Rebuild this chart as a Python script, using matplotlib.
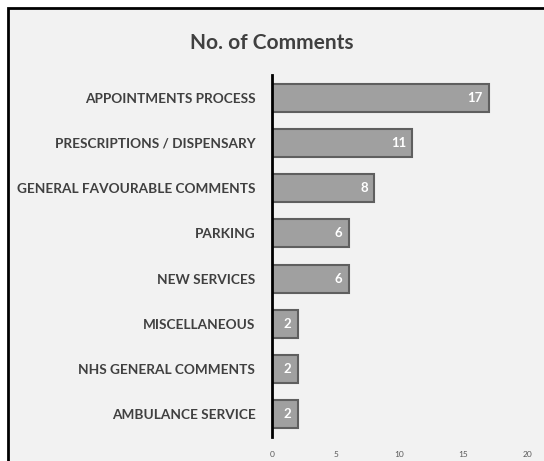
import matplotlib.pyplot as plt
from matplotlib.patches import Rectangle

categories = ['APPOINTMENTS PROCESS', 'PRESCRIPTIONS / DISPENSARY',
              'GENERAL FAVOURABLE COMMENTS', 'PARKING', 'NEW SERVICES',
              'MISCELLANEOUS', 'NHS GENERAL COMMENTS', 'AMBULANCE SERVICE']
counts = [17, 11, 8, 6, 6, 2, 2, 2]
x_ticks = [0, 5, 10, 15, 20]

plt.rcParams['font.family'] = ['Lato', 'DejaVu Sans']

fig = plt.figure(figsize=(5.44, 4.61), dpi=100, facecolor='white')

# chart frame (runs off the right and bottom edges)
fig.patches.append(Rectangle((8 / 544, -0.05), 1.0, 1 - 8 / 461 + 0.05,
                             transform=fig.transFigure, facecolor='#f2f2f2',
                             edgecolor='black', linewidth=2, zorder=-10))

ax = fig.add_axes([0.5, 0.052, 0.469, 0.785])
ax.set_facecolor('none')

y = list(range(len(categories)))
bars = ax.barh(y, counts, height=0.62, color='#a0a0a0',
               edgecolor='#5f5f5f', linewidth=1.5)
for b, v in zip(bars, counts):
    ax.text(b.get_width() - 0.5, b.get_y() + b.get_height() / 2, str(v),
            ha='right', va='center', color='white', fontweight='bold',
            fontsize=9.5)

ax.set_yticks(y)
ax.set_yticklabels(categories, fontweight='bold', fontsize=9.8, color='#404040')
ax.set_ylim(len(categories) - 0.5, -0.5)
ax.set_xlim(0, 20)
ax.set_xticks(x_ticks)
ax.tick_params(axis='x', length=0, labelsize=6, colors='#595959', pad=10)
ax.tick_params(axis='y', length=0, pad=12)

for s in ['top', 'right', 'bottom']:
    ax.spines[s].set_visible(False)
ax.spines['left'].set_linewidth(2)
ax.spines['left'].set_color('black')

fig.text(0.5, 0.907, 'No. of Comments', ha='center', va='center',
         fontsize=15, fontweight='bold', color='#404040')

fig.savefig('out.png', dpi=100)
